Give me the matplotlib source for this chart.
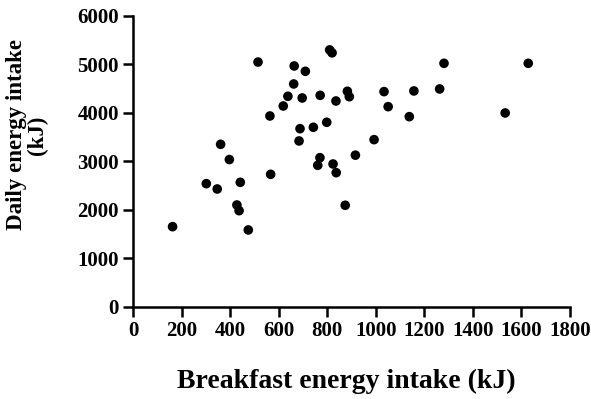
import matplotlib
matplotlib.use("Agg")
import matplotlib.pyplot as plt

# breakfast energy intake (kJ) vs daily energy intake (kJ)
breakfast = [163, 302, 347, 361, 397, 428, 437, 442, 475, 515,
             564, 567, 619, 638, 662, 664, 684, 688, 697, 710,
             743, 761, 770, 771, 798, 810, 820, 824, 836, 837,
             874, 883, 891, 916, 993, 1034, 1051, 1138, 1157, 1263,
             1281, 1533, 1628]
daily = [1656, 2543, 2433, 3354, 3040, 2103, 1986, 2570, 1588, 5050,
         3938, 2735, 4144, 4344, 4598, 4969, 3423, 3676, 4309, 4859,
         3705, 2921, 3078, 4364, 3808, 5300, 5240, 2948, 4247, 2769,
         2097, 4447, 4336, 3130, 3450, 4440, 4130, 3924, 4454, 4495,
         5024, 4000, 5024]

xticks = [0, 200, 400, 600, 800, 1000, 1200, 1400, 1600, 1800]
yticks = [0, 1000, 2000, 3000, 4000, 5000, 6000]

plt.rcParams['font.family'] = ['Liberation Serif', 'DejaVu Serif']
plt.rcParams['font.weight'] = 'bold'

fig = plt.figure(figsize=(5.91, 3.99), dpi=100)
ax = fig.add_axes([0.225, 0.2306, 0.7395, 0.7294])

ax.scatter(breakfast, daily, s=48, color='black', edgecolors='none', zorder=3)

ax.set_xlim(0, 1800)
ax.set_ylim(0, 6000)
ax.set_xticks(xticks)
ax.set_yticks(yticks)
ax.tick_params(direction='out', length=7, width=1.8, labelsize=15, pad=3)
for lab in ax.get_xticklabels() + ax.get_yticklabels():
    lab.set_fontweight('bold')

for side in ['top', 'right']:
    ax.spines[side].set_visible(False)
for side in ['left', 'bottom']:
    ax.spines[side].set_linewidth(1.8)

fig.text(0.586, 0.043, 'Breakfast energy intake (kJ)', ha='center', va='center',
         fontsize=20, fontweight='bold')
fig.text(0.045, 0.662, 'Daily energy intake\n(kJ)', ha='center', va='center',
         rotation=90, fontsize=16.5, fontweight='bold', linespacing=1.0)

fig.savefig('out.png', dpi=100)
